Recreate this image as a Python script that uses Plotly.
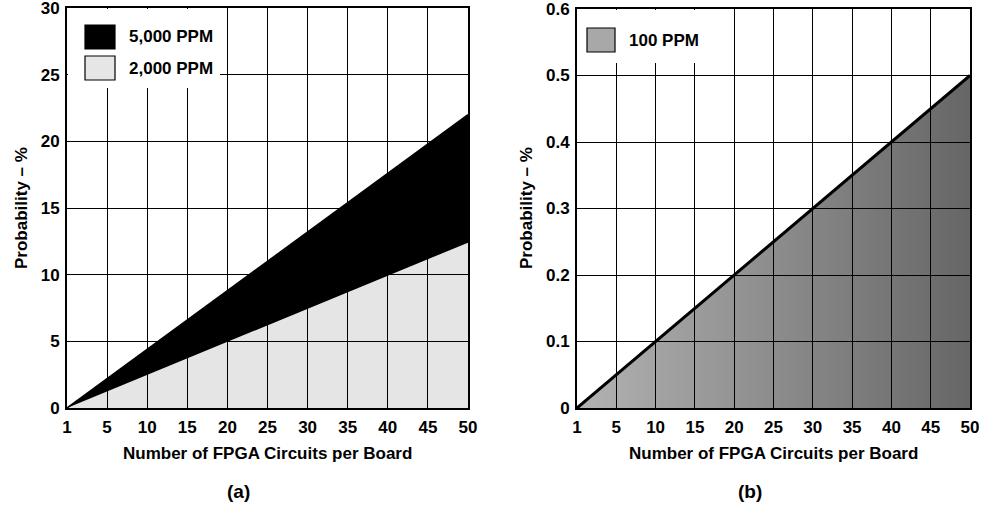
import plotly.graph_objects as go
from plotly.subplots import make_subplots

# circuits per board (axis categories) and failure probability in %
circuits = ["1", "5", "10", "15", "20", "25", "30", "35", "40", "45", "50"]
ppm_5000 = [0, 2.2, 4.4, 6.6, 8.8, 11.0, 13.2, 15.4, 17.6, 19.8, 22.0]
ppm_2000 = [0, 1.24, 2.48, 3.72, 4.96, 6.2, 7.44, 8.68, 9.92, 11.16, 12.4]
ppm_100 = [0, 0.05, 0.1, 0.15, 0.2, 0.25, 0.3, 0.35, 0.4, 0.45, 0.5]

yticks_a = [0, 5, 10, 15, 20, 25, 30]
yticks_b = [0, 0.1, 0.2, 0.3, 0.4, 0.5, 0.6]
yticktext_b = ["0", "0.1", "0.2", "0.3", "0.4", "0.5", "0.6"]

W, H = 987, 505
FONT = "Liberation Sans, Arial, Helvetica, sans-serif"


def px(x):
    return x / W


def py(y):
    return 1 - y / H


fig = make_subplots(rows=1, cols=2)

fig.add_trace(go.Scatter(
    x=circuits, y=ppm_2000, mode="lines", line=dict(color="rgba(0,0,0,0)", width=0),
    fill="tozeroy", fillcolor="rgba(0,0,0,0.1)", name="2,000 PPM",
), row=1, col=1)
fig.add_trace(go.Scatter(
    x=circuits, y=ppm_5000, mode="lines", line=dict(color="black", width=1.5),
    fill="tonexty", fillcolor="black", name="5,000 PPM",
), row=1, col=1)
fig.add_trace(go.Scatter(
    x=circuits, y=ppm_100, mode="lines", line=dict(color="black", width=3),
    fill="tozeroy",
    fillgradient=dict(type="horizontal",
                      colorscale=[[0, "rgba(0,0,0,0.3)"], [1, "rgba(0,0,0,0.6)"]]),
    name="100 PPM",
), row=1, col=2)

tick_font = dict(family=FONT, size=17, color="black", weight="bold")
axis_common = dict(
    showline=True, mirror=True, linewidth=2, linecolor="black",
    showgrid=True, gridcolor="black", gridwidth=1.2, zeroline=False,
    tickfont=tick_font, ticks="", automargin=False, ticklabeloverflow="allow",
)

fig.update_xaxes(type="category", range=[0, 10], domain=[px(67), px(468)],
                 ticklabelstandoff=3, row=1, col=1, **axis_common)
fig.update_xaxes(type="category", range=[0, 10], domain=[px(577), px(970)],
                 ticklabelstandoff=3, row=1, col=2, **axis_common)
fig.update_yaxes(range=[0, 30], tickvals=yticks_a, domain=[py(408), py(8)],
                 ticklabelstandoff=2, row=1, col=1, **axis_common)
fig.update_yaxes(range=[0, 0.6], tickvals=yticks_b, ticktext=yticktext_b,
                 domain=[py(408), py(9)], ticklabelstandoff=2, row=1, col=2, **axis_common)

shapes = []
annotations = []

# legend panels (white boxes hide the grid behind them)
shapes.append(dict(type="rect", xref="paper", yref="paper", layer="above",
                   x0=px(68), x1=px(220), y0=py(88), y1=py(9),
                   fillcolor="white", line=dict(width=0)))
shapes.append(dict(type="rect", xref="paper", yref="paper", layer="above",
                   x0=px(578), x1=px(720), y0=py(63), y1=py(10),
                   fillcolor="white", line=dict(width=0)))

legend_items = [
    (85, 25, 115, 49, "black", "5,000 PPM", 127, 37),
    (85, 56, 115, 80, "#e6e6e6", "2,000 PPM", 127, 68),
    (587, 28, 615, 52, "#a8a8a8", "100 PPM", 627, 41),
]
for x0, y0, x1, y1, color, label, tx, ty in legend_items:
    shapes.append(dict(type="rect", xref="paper", yref="paper", layer="above",
                       x0=px(x0), x1=px(x1), y0=py(y1), y1=py(y0),
                       fillcolor=color, line=dict(color="black", width=1.2)))
    annotations.append(dict(text=label, xref="paper", yref="paper", x=px(tx), y=py(ty),
                            xanchor="left", yanchor="middle", showarrow=False,
                            font=dict(family=FONT, size=17, color="black", weight="bold")))

title_font = dict(family=FONT, size=17, color="black", weight="bold")
for cx, ytx, lab, panel_x in [(267, 22, "(a)", 238), (773, 527, "(b)", 750)]:
    annotations.append(dict(text="Number of FPGA Circuits per Board", xref="paper", yref="paper",
                            x=px(cx), y=py(453), xanchor="center", yanchor="middle",
                            showarrow=False, font=title_font))
    annotations.append(dict(text="Probability \u2013 %", xref="paper", yref="paper",
                            x=px(ytx), y=py(208), xanchor="center", yanchor="middle",
                            textangle=-90, showarrow=False, font=title_font))
    annotations.append(dict(text=lab, xref="paper", yref="paper",
                            x=px(panel_x), y=py(491), xanchor="center", yanchor="middle",
                            showarrow=False, font=dict(family=FONT, size=19, color="black", weight="bold")))

fig.update_layout(
    width=W, height=H,
    margin=dict(l=0, r=0, t=0, b=0),
    paper_bgcolor="white", plot_bgcolor="white",
    showlegend=False,
    shapes=shapes, annotations=annotations,
)

# drop the default page margin so the 987x505 figure fills the window exactly
fig.write_html("out.html", config={"displayModeBar": False},
               post_script="document.body.style.margin = '0';")
